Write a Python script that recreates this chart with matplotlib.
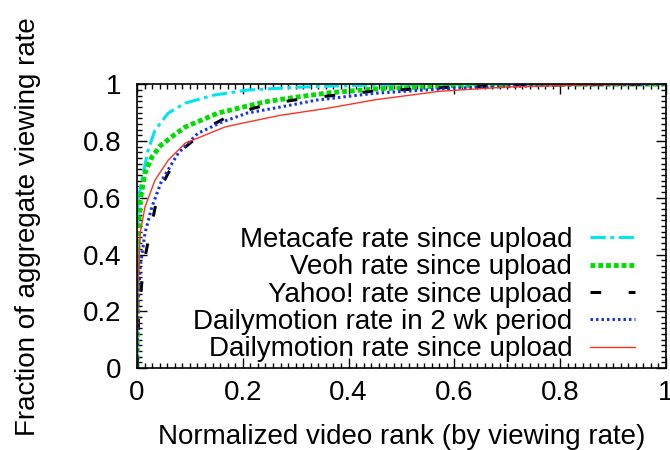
import numpy as np
import matplotlib
matplotlib.use("Agg")
import matplotlib.pyplot as plt
from matplotlib.ticker import MultipleLocator

plt.rcParams['font.family'] = ['Liberation Sans', 'DejaVu Sans']

# curves (x = normalized rank, y = cumulative fraction)
metacafe_x = [0, 0.001, 0.002, 0.009, 0.021, 0.034, 0.059, 0.091, 0.144, 0.208, 0.30, 0.4, 0.5, 0.7, 1.0]
metacafe_y = [0, 0.40, 0.59, 0.662, 0.768, 0.838, 0.898, 0.933, 0.961, 0.979, 0.989, 0.995, 0.998, 1.0, 1.0]

veoh_x = [0, 0.001, 0.002, 0.006, 0.015, 0.028, 0.045, 0.053, 0.062, 0.091, 0.153, 0.24, 0.30, 0.365, 0.45, 0.6, 0.8, 1.0]
veoh_y = [0, 0.30, 0.475, 0.59, 0.687, 0.743, 0.785, 0.795, 0.81, 0.849, 0.898, 0.937, 0.954, 0.97, 0.983, 0.995, 1.0, 1.0]

yahoo_x = [0, 0.003, 0.009, 0.015, 0.028, 0.04, 0.059, 0.091, 0.142, 0.176, 0.22, 0.257, 0.308, 0.34, 0.446, 0.6, 0.8, 1.0]
yahoo_y = [0, 0.18, 0.30, 0.39, 0.51, 0.616, 0.687, 0.778, 0.856, 0.89, 0.915, 0.933, 0.947, 0.954, 0.975, 0.99, 0.998, 1.0]

dm2wk_x = [0, 0.002, 0.006, 0.015, 0.028, 0.047, 0.078, 0.115, 0.16, 0.208, 0.27, 0.34, 0.45, 0.6, 0.8, 1.0]
dm2wk_y = [0, 0.22, 0.356, 0.475, 0.567, 0.662, 0.757, 0.827, 0.866, 0.898, 0.919, 0.944, 0.968, 0.986, 0.997, 1.0]

dm_x = [0, 0.002, 0.006, 0.015, 0.034, 0.059, 0.091, 0.166, 0.208, 0.27, 0.36, 0.45, 0.573, 0.7, 0.85, 1.0]
dm_y = [0, 0.30, 0.475, 0.567, 0.662, 0.732, 0.792, 0.849, 0.866, 0.89, 0.915, 0.945, 0.975, 0.99, 0.997, 1.0]

labels = ["Metacafe rate since upload", "Veoh rate since upload", "Yahoo! rate since upload",
          "Dailymotion rate in 2 wk period", "Dailymotion rate since upload"]
ticks = [0, 0.2, 0.4, 0.6, 0.8, 1.0]
tick_labels = ["0", "0.2", "0.4", "0.6", "0.8", "1"]

fig = plt.figure(figsize=(6.7, 4.5), dpi=100)
ax = fig.add_axes([0.2045, 0.182, 0.7895, 0.631])

ax.plot(metacafe_x, metacafe_y, color="#00e5ee", lw=2.2, dashes=(5, 1.5, 1.2, 1.5), label=labels[0])
ax.plot(veoh_x, veoh_y, color="#00dd00", lw=3.5, dashes=(1, 0.6), label=labels[1])
ax.plot(yahoo_x, yahoo_y, color="black", lw=2.2, dashes=(3.5, 9), label=labels[2])
ax.plot(dm2wk_x, dm2wk_y, color="#1133ee", lw=2.2, dashes=(0.8, 1.0), label=labels[3])
ax.plot(dm_x, dm_y, color="#ff3322", lw=1.0, label=labels[4])

ax.set_xlim(0, 1)
ax.set_ylim(0, 1)
ax.set_xticks(ticks)
ax.set_xticklabels(tick_labels)
ax.set_yticks(ticks)
ax.set_yticklabels(tick_labels)
ax.xaxis.set_minor_locator(MultipleLocator(0.2 / 14))
ax.yaxis.set_minor_locator(MultipleLocator(0.02))
ax.tick_params(which="both", direction="in", top=True, right=True, labelsize=20, width=1)
ax.tick_params(which="major", length=7)
ax.tick_params(which="minor", length=3.5)
ax.tick_params(axis="x", pad=8.5)
ax.tick_params(axis="y", pad=11.5)
for s in ax.spines.values():
    s.set_linewidth(1.2)

ax.set_xlabel("Normalized video rank (by viewing rate)", fontsize=20, labelpad=13)
ax.set_ylabel("Fraction of aggregate viewing rate", fontsize=20, labelpad=30)

leg = ax.legend(loc="lower right", frameon=False, fontsize=20, markerfirst=False,
                handlelength=1.6, handletextpad=0.65, labelspacing=0.05,
                borderpad=0, borderaxespad=0, bbox_to_anchor=(0.941, 0.02))
for t in leg.get_texts():
    t.set_ha("right")

fig.savefig("out.png", dpi=100)
